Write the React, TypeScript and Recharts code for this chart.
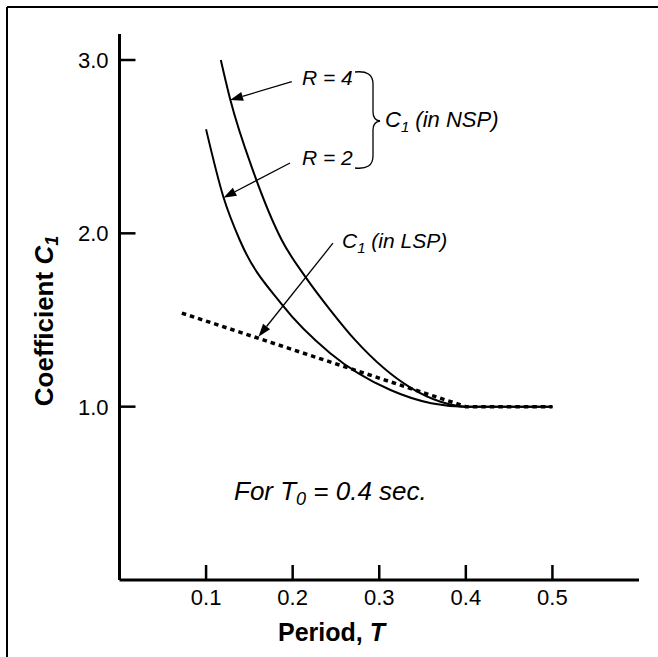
import { LineChart, Line, XAxis, YAxis, ReferenceLine } from 'recharts';

// C1 curves (T0 = 0.4 sec)
const R4_PERIOD = [0.117, 0.128, 0.155, 0.1875, 0.2145, 0.243, 0.272, 0.336, 0.37, 0.4, 0.5];
const R4_COEF = [3.0, 2.77, 2.35, 1.96, 1.75, 1.56, 1.385, 1.11, 1.03, 1.0, 1.0];
const R2_PERIOD = [0.1, 0.12, 0.139, 0.1875, 0.243, 0.313, 0.36, 0.4, 0.5];
const R2_COEF = [2.6, 2.21, 1.96, 1.59, 1.31, 1.096, 1.02, 1.0, 1.0];
const LSP_PERIOD = [0.072, 0.4, 0.5];
const LSP_COEF = [1.54, 1.0, 1.0];

const X_TICKS = [0.1, 0.2, 0.3, 0.4, 0.5];
const Y_TICKS = [1, 2, 3];

// annotation arrows, [from, to] in data units
const ARROW_R4 = [{ x: 0.199, y: 2.875 }, { x: 0.1277, y: 2.769 }];
const ARROW_R2 = [{ x: 0.197, y: 2.406 }, { x: 0.12, y: 2.205 }];
const ARROW_LSP = [{ x: 0.2465, y: 1.943 }, { x: 0.1605, y: 1.404 }];

const FONT = '"Liberation Sans", Arial, Helvetica, sans-serif';
const W = 658;
const H = 657;

const toRows = (ts: number[], cs: number[]) => ts.map((t, i) => ({ t, c: cs[i] }));

function XTick({ x, y, payload }: any) {
  return (
    <g>
      <line x1={x} y1={y} x2={x} y2={y - 15} stroke="#000" strokeWidth={2.5} />
      <text x={x} y={y + 25} textAnchor="middle" fontSize={22} fontFamily={FONT} fill="#000">
        {Number(payload.value).toFixed(1)}
      </text>
    </g>
  );
}

function YTick({ x, y, payload }: any) {
  return (
    <g>
      <line x1={x} y1={y} x2={x + 16} y2={y} stroke="#000" strokeWidth={2.5} />
      <text x={x - 11} y={y + 8} textAnchor="end" fontSize={22} fontFamily={FONT} fill="#000">
        {Number(payload.value).toFixed(1)}
      </text>
    </g>
  );
}

function Arrow({ x1, y1, x2, y2 }: any) {
  const ang = Math.atan2(y2 - y1, x2 - x1);
  const len = 13;
  const half = 4.5;
  const bx = x2 - len * Math.cos(ang);
  const by = y2 - len * Math.sin(ang);
  const px = -Math.sin(ang) * half;
  const py = Math.cos(ang) * half;
  return (
    <g>
      <line x1={x1} y1={y1} x2={bx} y2={by} stroke="#000" strokeWidth={1.3} />
      <polygon points={`${x2},${y2} ${bx + px},${by + py} ${bx - px},${by - py}`} fill="#000" />
    </g>
  );
}

export default function App() {
  const r4 = toRows(R4_PERIOD, R4_COEF);
  const r2 = toRows(R2_PERIOD, R2_COEF);
  const lsp = toRows(LSP_PERIOD, LSP_COEF);

  return (
    <div style={{ position: 'absolute', left: 0, top: 0, width: W, height: H, background: '#fff' }}>
      <LineChart width={W} height={H} margin={{ top: 34, right: 19, bottom: 47, left: 0 }}>
        <XAxis
          dataKey="t"
          type="number"
          domain={[0, 0.6]}
          ticks={X_TICKS}
          height={30}
          tickSize={0}
          tickMargin={0}
          tickLine={false}
          tick={XTick}
          axisLine={{ stroke: '#000', strokeWidth: 3 }}
          allowDataOverflow
        />
        <YAxis
          type="number"
          domain={[0, 3.15]}
          ticks={Y_TICKS}
          width={119.5}
          tickSize={0}
          tickMargin={0}
          tickLine={false}
          tick={YTick}
          axisLine={{ stroke: '#000', strokeWidth: 3 }}
          allowDataOverflow
        />
        <Line data={r4} dataKey="c" type="monotone" stroke="#000" strokeWidth={2} dot={false} isAnimationActive={false} />
        <Line data={r2} dataKey="c" type="monotone" stroke="#000" strokeWidth={2} dot={false} isAnimationActive={false} />
        <Line
          data={lsp}
          dataKey="c"
          type="linear"
          stroke="#000"
          strokeWidth={3.5}
          strokeDasharray="4.5 4"
          dot={false}
          isAnimationActive={false}
        />
        <ReferenceLine segment={ARROW_R4} shape={Arrow} ifOverflow="visible" />
        <ReferenceLine segment={ARROW_R2} shape={Arrow} ifOverflow="visible" />
        <ReferenceLine segment={ARROW_LSP} shape={Arrow} ifOverflow="visible" />
      </LineChart>

      <svg
        width={W}
        height={H}
        style={{ position: 'absolute', left: 0, top: 0, pointerEvents: 'none' }}
        fontFamily={FONT}
      >
        {/* frame */}
        <line x1={7} y1={7} x2={W} y2={7} stroke="#000" strokeWidth={2} />
        <line x1={7} y1={7} x2={7} y2={H} stroke="#000" strokeWidth={2} />

        <text x={302} y={85} fontSize={21} fontStyle="italic">R = 4</text>
        <text x={302} y={165} fontSize={21} fontStyle="italic">R = 2</text>
        <path
          d="M355,72 Q373,70 373,84 L373,112 Q373,120 380,121 Q373,122 373,130 L373,156 Q373,170 355,168"
          fill="none"
          stroke="#000"
          strokeWidth={1.3}
        />
        <text x={385} y={127} fontSize={22} fontStyle="italic">
          C<tspan fontSize={15} dy={5}>1</tspan>
          <tspan dy={-5}> (in NSP)</tspan>
        </text>
        <text x={342} y={248} fontSize={21} fontStyle="italic">
          C<tspan fontSize={15} dy={5}>1</tspan>
          <tspan dy={-5}> (in LSP)</tspan>
        </text>
        <text x={234} y={500} fontSize={26} fontStyle="italic">
          For T<tspan fontSize={18} dy={5}>0</tspan>
          <tspan dy={-5}> = 0.4 sec.</tspan>
        </text>

        <text x={331.5} y={641} textAnchor="middle" fontSize={25} fontWeight="bold">
          Period, <tspan fontStyle="italic">T</tspan>
        </text>
        <text transform="rotate(-90 53 321)" x={53} y={321} textAnchor="middle" fontSize={26} fontWeight="bold">
          Coefficient <tspan fontStyle="italic">C</tspan>
          <tspan fontSize={18} dy={5} fontStyle="italic">1</tspan>
        </text>
      </svg>
    </div>
  );
}
